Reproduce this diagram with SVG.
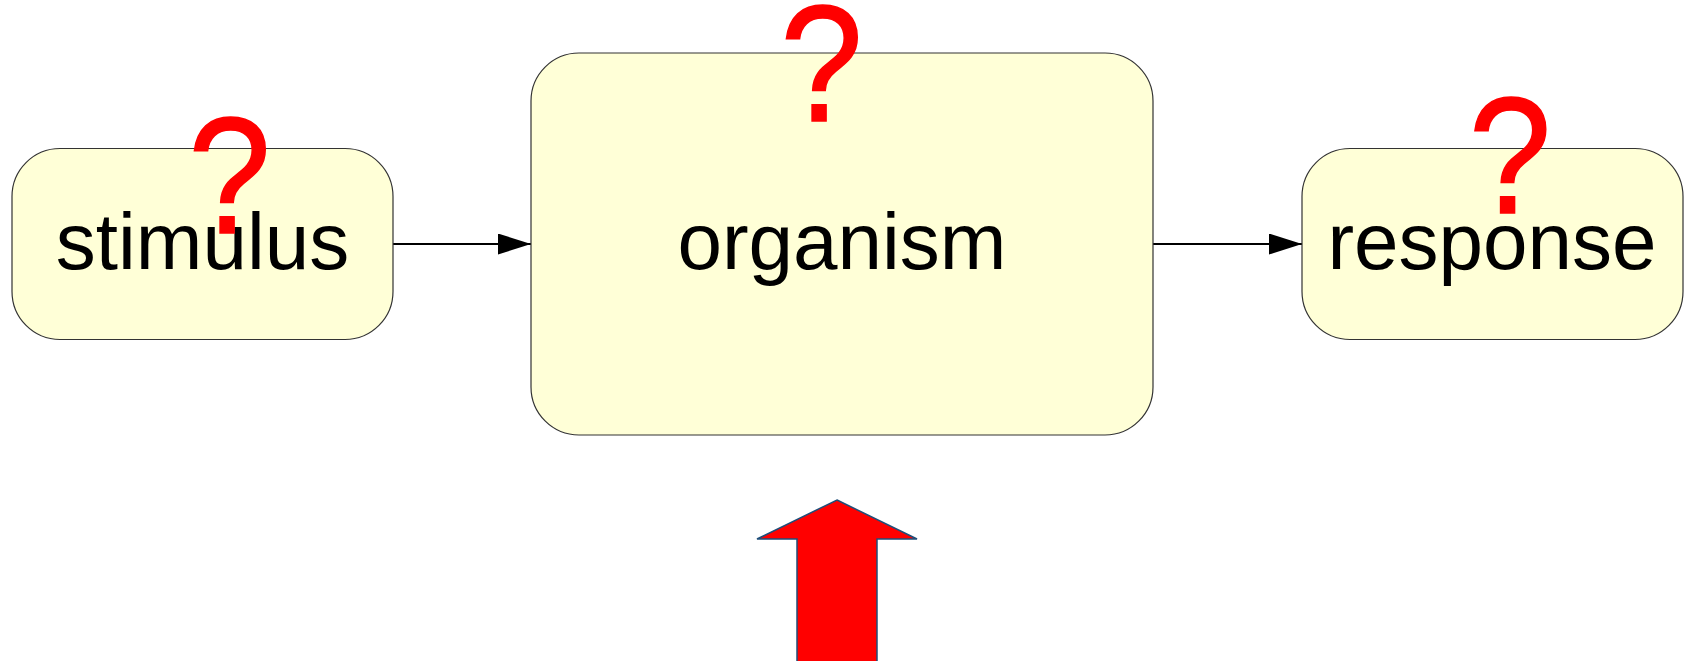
<svg xmlns="http://www.w3.org/2000/svg" width="1686" height="661" viewBox="0 0 1686 661">
<style>
.box{fill:#ffffd7;stroke:#333;stroke-width:1.2}
.lbl{font-family:"Liberation Sans",Arial,sans-serif;font-size:80px;fill:#000;text-anchor:middle}
.q{font-family:"Liberation Sans",Arial,sans-serif;font-size:165px;fill:#ff0000;stroke:#ff0000;stroke-width:1.5;text-anchor:middle}
.conn{stroke:#000;stroke-width:2;fill:none}
</style>
<defs>
<marker id="ah" markerUnits="userSpaceOnUse" markerWidth="34" markerHeight="22" refX="33" refY="10.5" orient="auto">
<path d="M0,0 L33,10.5 L0,21 Z" fill="#000"/>
</marker>
</defs>
<rect width="1686" height="661" fill="#fff"/>
<g id="connectors">
<line class="conn" x1="393" y1="244" x2="531" y2="244" marker-end="url(#ah)"/>
<line class="conn" x1="1153" y1="244" x2="1302" y2="244" marker-end="url(#ah)"/>
</g>
<g id="stimulus">
<rect class="box" x="12" y="148.5" width="381" height="191" rx="48" ry="48"/>
<text class="lbl" x="202.5" y="269">stimulus</text>
</g>
<g id="organism">
<rect class="box" x="531" y="53" width="622" height="382" rx="48" ry="48"/>
<text class="lbl" x="842" y="269">organism</text>
</g>
<g id="response">
<rect class="box" x="1302" y="148.5" width="381" height="191" rx="48" ry="48"/>
<text class="lbl" x="1492" y="269">response</text>
</g>
<g id="questions">
<text class="q" transform="translate(229.5,233) scale(0.9,1)">?</text>
<text class="q" transform="translate(821.5,121) scale(0.9,1)">?</text>
<text class="q" transform="translate(1510,213) scale(0.9,1)">?</text>
</g>
<g id="input-arrow">
<polygon points="837,500 917,539 877,539 877,662 797,662 797,539 757,539" fill="#ff0000" stroke="#1f4e79" stroke-width="1.5"/>
</g>
</svg>
